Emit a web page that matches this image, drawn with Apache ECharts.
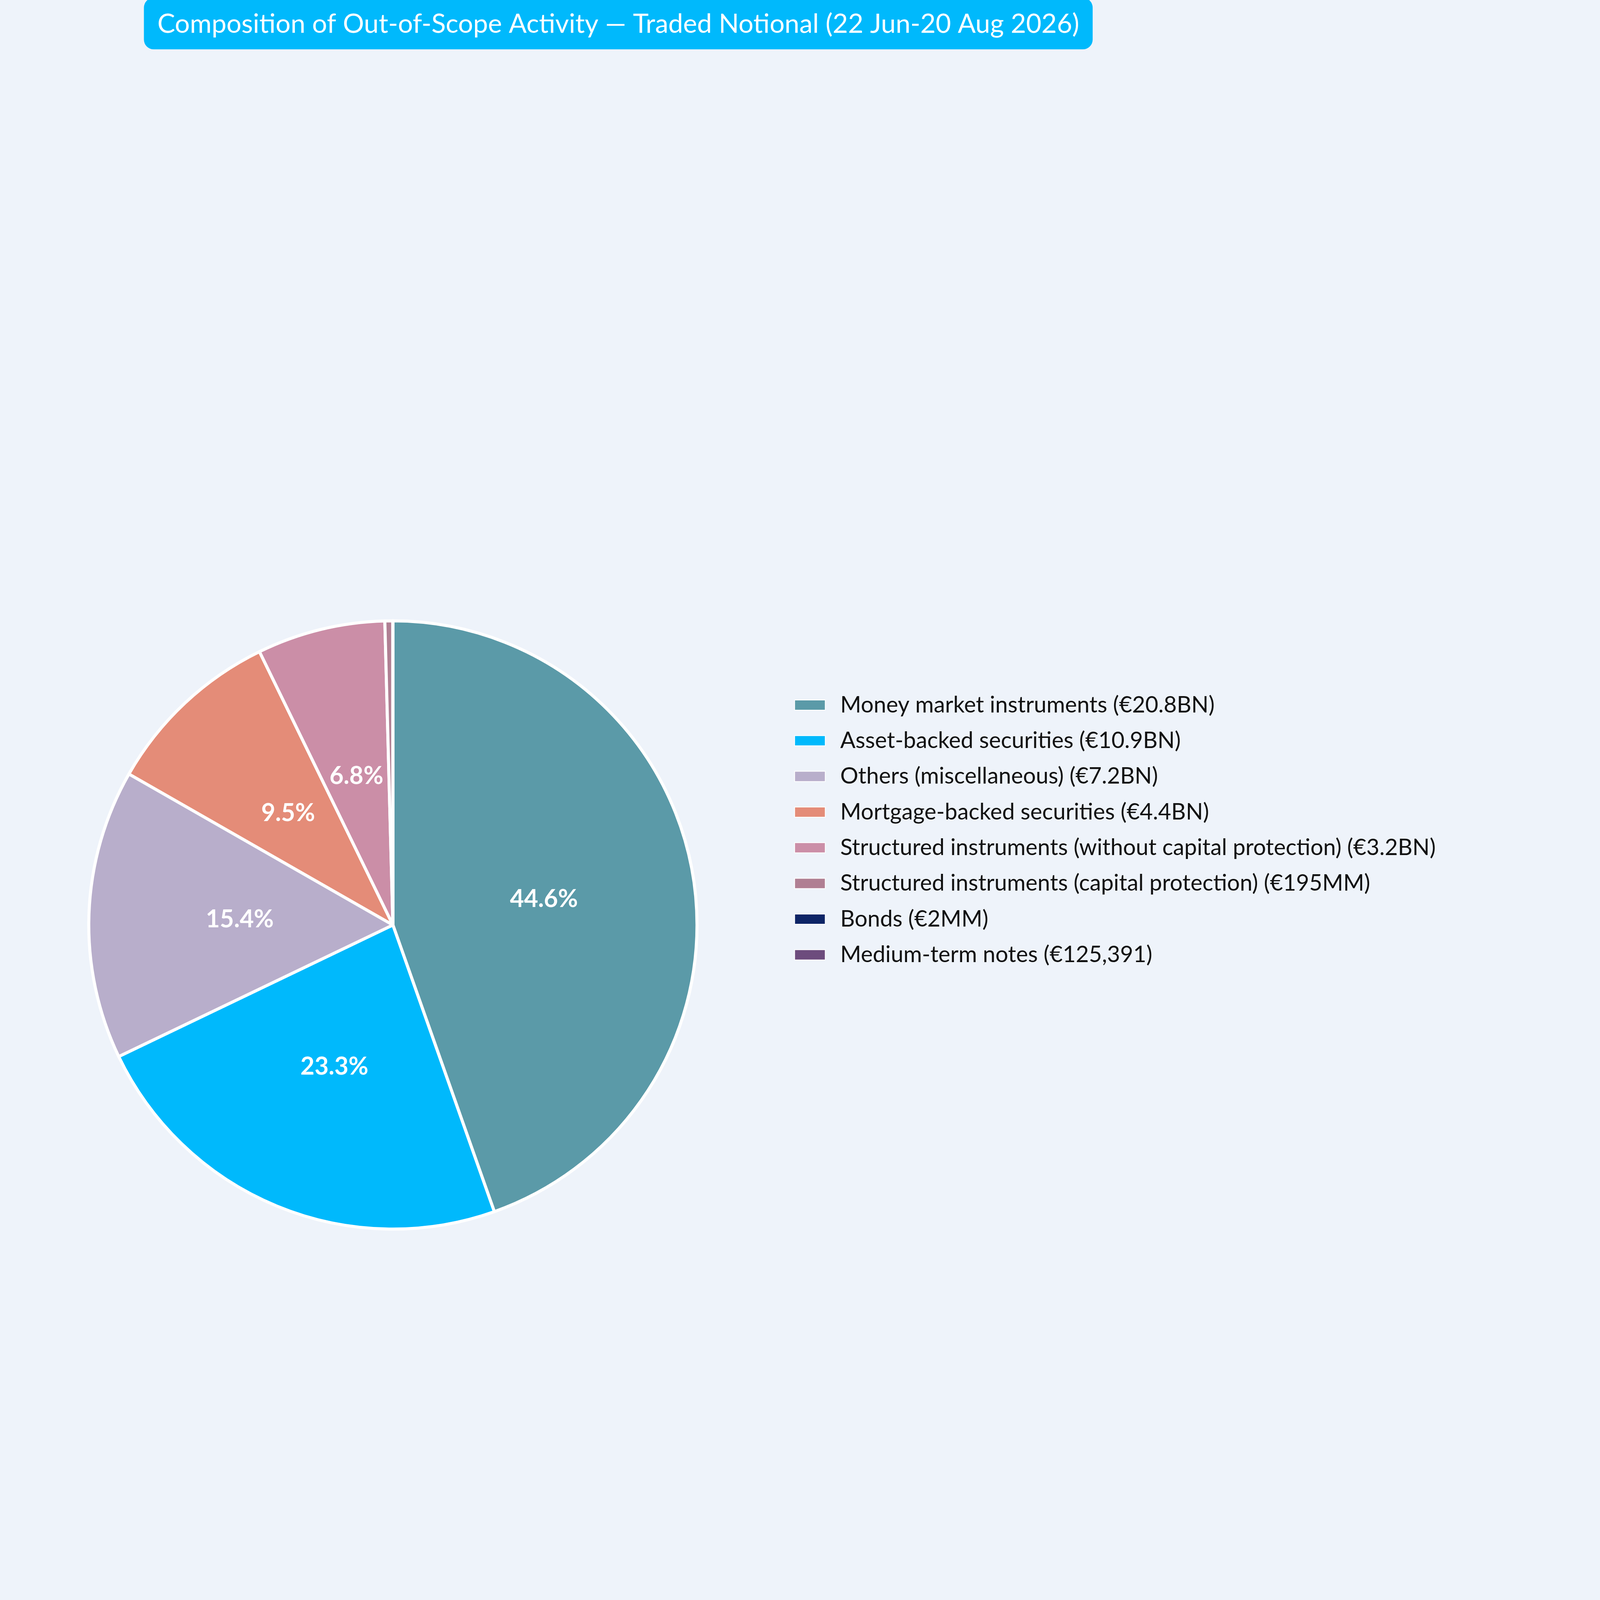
<!DOCTYPE html>
<html>
<head>
<meta charset="UTF-8">
<script src="https://cdn.jsdelivr.net/npm/echarts@6/dist/echarts.min.js"></script>
<style>
  html, body { margin: 0; height: 100%; width: 100%; background: #EEF3FA; overflow: hidden; }
  #main { width: 100vw; height: 100vh; }
</style>
</head>
<body>
<div id="main"></div>
<script>
  // traded notional in EUR billions
  var categories = [
    'Money market instruments (€20.8BN)',
    'Asset-backed securities (€10.9BN)',
    'Others (miscellaneous) (€7.2BN)',
    'Mortgage-backed securities (€4.4BN)',
    'Structured instruments (without capital protection) (€3.2BN)',
    'Structured instruments (capital protection) (€195MM)',
    'Bonds (€2MM)',
    'Medium-term notes (€125,391)'
  ];
  var values = [20.83, 10.88, 7.19, 4.44, 3.18, 0.195, 0.002, 0.000125391];
  var colors = ['#5B9AA8', '#00B9FC', '#B8AECB', '#E48C78', '#CB8EA7', '#B07F93', '#0D2466', '#6D4C7D'];

  var total = values.reduce(function (a, b) { return a + b; }, 0);
  var pieData = categories.map(function (c, i) {
    return { name: c, value: values[i], itemStyle: { color: colors[i] } };
  });

  var el = document.getElementById('main');
  var W = el.clientWidth, H = el.clientHeight;
  var s = Math.min(W / 7371, H / 4302);

  var option = {
    backgroundColor: '#EEF3FA',
    textStyle: { fontFamily: 'Lato' },
    title: {
      text: 'Composition of Out-of-Scope Activity — Traded Notional (22 Jun-20 Aug 2026)',
      left: W * 663 / 7371,
      top: -10 * s,
      backgroundColor: '#00B9FC',
      borderRadius: 45 * s,
      padding: [60 * s, 62 * s, 55 * s, 62 * s],
      textStyle: { color: '#fff', fontSize: 122 * s, fontWeight: 'normal', fontFamily: 'Lato' }
    },
    legend: {
      orient: 'vertical',
      left: W * 3650 / 7371,
      top: H * 1860 / 4302,
      itemWidth: 141 * s,
      itemHeight: 47 * s,
      itemGap: 60 * s,
      icon: 'rect',
      textStyle: { fontSize: 104 * s, color: '#111', fontFamily: 'Lato', padding: [0, 0, 0, 60 * s] }
    },
    series: [{
      type: 'pie',
      center: [W * 1810 / 7371, H * 2487 / 4302],
      radius: 1401 * s,
      startAngle: 90,
      clockwise: true,
      data: pieData,
      itemStyle: { borderColor: '#fff', borderWidth: 14 * s },
      labelLine: { show: false },
      label: {
        position: 'inside',
        color: '#fff',
        fontWeight: 'bold',
        fontSize: 112 * s,
        fontFamily: 'Lato',
        formatter: function (p) {
          var pct = p.value / total * 100;
          return pct > 5 ? pct.toFixed(1) + '%' : '';
        }
      },
      emphasis: { scale: false }
    }]
  };
  echarts.init(el).setOption(option);
</script>
</body>
</html>
